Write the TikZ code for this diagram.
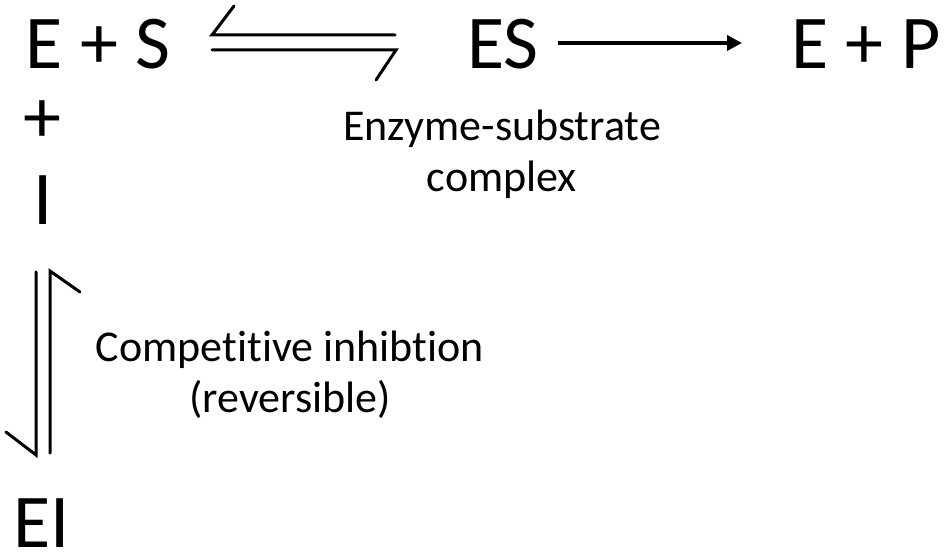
\documentclass[tikz,border=0pt]{standalone}
\usepackage{fontspec}
\setmainfont{Carlito}[Ligatures=NoCommon]
\usetikzlibrary{arrows.meta}
\begin{document}
\begin{tikzpicture}[x=1pt,y=-1pt,
  big/.style={font=\fontsize{76}{80}\selectfont, inner sep=0pt, anchor=base},
  small/.style={font=\fontsize{44}{51}\selectfont, inner sep=0pt, anchor=base, align=center},
  ln/.style={line width=3pt, line cap=round},
  arr/.style={line width=3.5pt, -{Triangle[length=15pt,width=15pt]}}]
\useasboundingbox (0,0) rectangle (945,553);
\node[big] (es) at (98,69) {E + S};
\node[big] (cx) at (503,69) {ES};
\node[big] (ep) at (866,69) {E + P};
\node[big] (plus) at (42,143) {+};
\node[big] (inh) at (43,225) {I};
\node[big] (ei) at (42,547) {EI};
\node[small] (lbl1) at (502,192) {Enzyme-substrate\\complex};
\node[small] (lbl2) at (290,412) {Competitive inhibtion\\(reversible)};
% horizontal equilibrium
\coordinate (h1) at (212,35);
\coordinate (h2) at (395,35);
\coordinate (h3) at (212,50);
\coordinate (h4) at (396,50);
\draw[ln] (234,6) -- (h1) -- (h2);
\draw[ln] (h3) -- (h4) -- (376,80);
% forward arrow
\coordinate (f1) at (558,43);
\coordinate (f2) at (742,43);
\draw[arr] (f1) -- (f2);
% vertical equilibrium
\coordinate (v1) at (36,272);
\coordinate (v2) at (36,455);
\coordinate (v3) at (50,271);
\coordinate (v4) at (50,453);
\draw[ln] (v1) -- (v2) -- (6,432);
\draw[ln] (80,292) -- (v3) -- (v4);
\end{tikzpicture}
\end{document}
